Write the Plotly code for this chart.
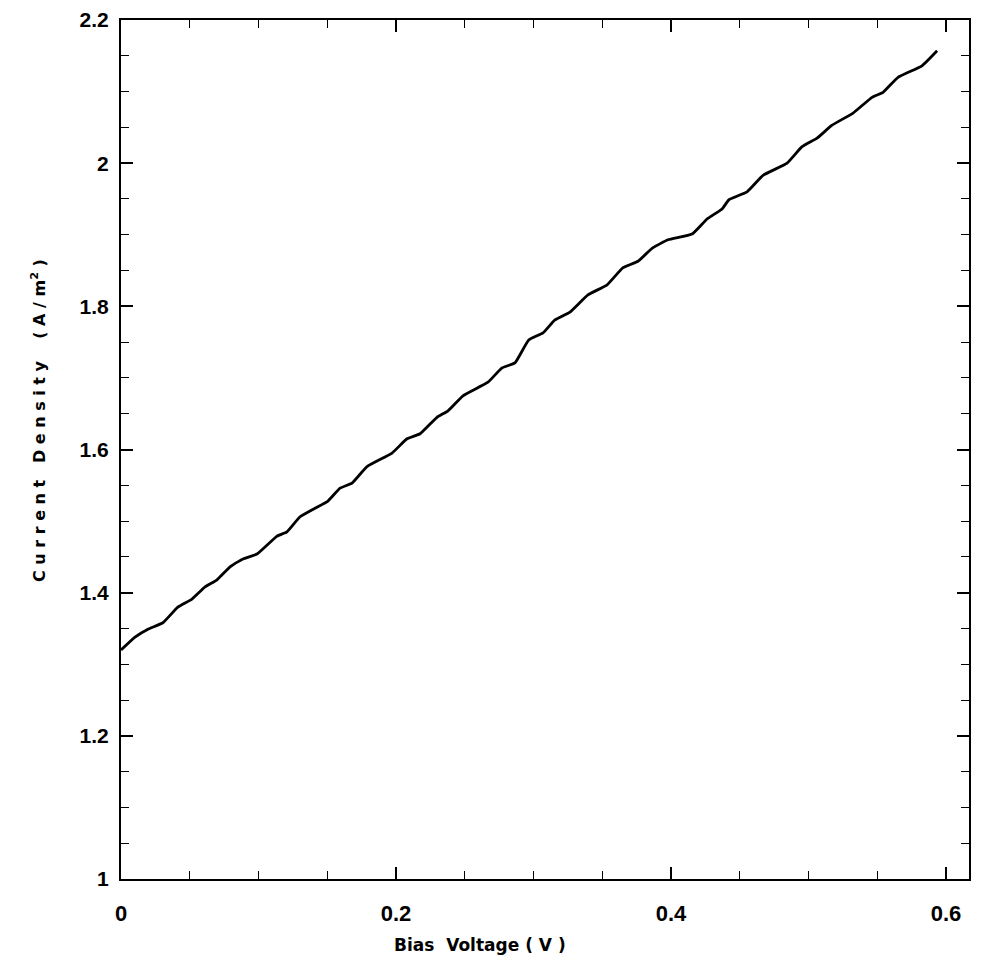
import plotly.graph_objects as go

# Bias voltage (V) and current density (A/m^2)
bias_v = [0.0, 0.0102, 0.0196, 0.0305, 0.0415, 0.0516, 0.0611, 0.0698, 0.0793, 0.0887,
          0.0989, 0.1135, 0.1207, 0.1302, 0.1411, 0.1505, 0.1593, 0.168, 0.1789, 0.1971,
          0.208, 0.2175, 0.2298, 0.2378, 0.2487, 0.2669, 0.2771, 0.2865, 0.2965, 0.3069,
          0.3156, 0.3265, 0.3396, 0.3535, 0.3651, 0.376, 0.3862, 0.3978, 0.4153, 0.4262,
          0.4371, 0.4422, 0.4553, 0.4669, 0.4844, 0.4953, 0.5062, 0.5171, 0.5324, 0.5462,
          0.5542, 0.5651, 0.5825, 0.5935]
current_density = [1.320, 1.338, 1.349, 1.358, 1.380, 1.391, 1.408, 1.418, 1.436, 1.447,
                   1.454, 1.479, 1.485, 1.506, 1.518, 1.528, 1.546, 1.553, 1.576, 1.595,
                   1.615, 1.622, 1.645, 1.654, 1.675, 1.694, 1.714, 1.721, 1.753, 1.763,
                   1.781, 1.792, 1.816, 1.830, 1.854, 1.863, 1.881, 1.893, 1.901, 1.922,
                   1.936, 1.949, 1.960, 1.983, 2.000, 2.023, 2.035, 2.053, 2.070, 2.092,
                   2.099, 2.120, 2.136, 2.157]

x_ticks = [0, 0.2, 0.4, 0.6]
x_tick_text = ["0", "0.2", "0.4", "0.6"]
y_ticks = [1, 1.2, 1.4, 1.6, 1.8, 2, 2.2]
y_tick_text = ["1", "1.2", "1.4", "1.6", "1.8", "2", "2.2"]
x_title = "Bias  Voltage ( V )"
y_title = "C u r r e n t   D e n s i t y    ( A / m<sup>2</sup> )"

fig = go.Figure()
fig.add_trace(go.Scatter(x=bias_v, y=current_density, mode="lines",
                         line=dict(color="black", width=2.8, shape="spline", smoothing=0.4),
                         showlegend=False))

x_tick_font = dict(family="Liberation Sans", size=22, color="black", weight="bold")
y_tick_font = dict(family="Liberation Sans", size=21, color="black", weight="bold")
x_title_font = dict(family="DejaVu Sans", size=17, color="black", weight="bold")
y_title_font = dict(family="DejaVu Sans", size=16, color="black", weight="bold")

fig.update_layout(
    width=975, height=961,
    margin=dict(l=113, r=14, t=12, b=90),
    paper_bgcolor="white", plot_bgcolor="white",
    xaxis=dict(
        range=[0, 0.6167], tickvals=x_ticks, ticktext=x_tick_text, automargin=False,
        ticks="inside", ticklen=12, tickwidth=1.5, tickcolor="black",
        minor=dict(dtick=0.05, ticks="inside", ticklen=8, tickwidth=1.2, tickcolor="black"),
        showline=True, linecolor="black", linewidth=2, mirror="ticks",
        showgrid=False, zeroline=False, tickfont=x_tick_font, ticklabelstandoff=14,
    ),
    yaxis=dict(
        range=[1, 2.2], tickvals=y_ticks, ticktext=y_tick_text, automargin=False,
        ticks="inside", ticklen=12, tickwidth=1.5, tickcolor="black",
        minor=dict(dtick=0.05, ticks="inside", ticklen=8, tickwidth=1.2, tickcolor="black"),
        showline=True, linecolor="black", linewidth=2, mirror="ticks",
        showgrid=False, zeroline=False, tickfont=y_tick_font, ticklabelstandoff=6,
    ),
    annotations=[
        dict(text=x_title, xref="paper", yref="paper", x=0.423, y=-0.077,
             xanchor="center", yanchor="middle", showarrow=False, font=x_title_font),
        dict(text=y_title, xref="paper", yref="paper", x=-0.097, y=0.534,
             xanchor="center", yanchor="middle", showarrow=False, font=y_title_font,
             textangle=-90),
    ],
)

fig.write_html("out.html")
